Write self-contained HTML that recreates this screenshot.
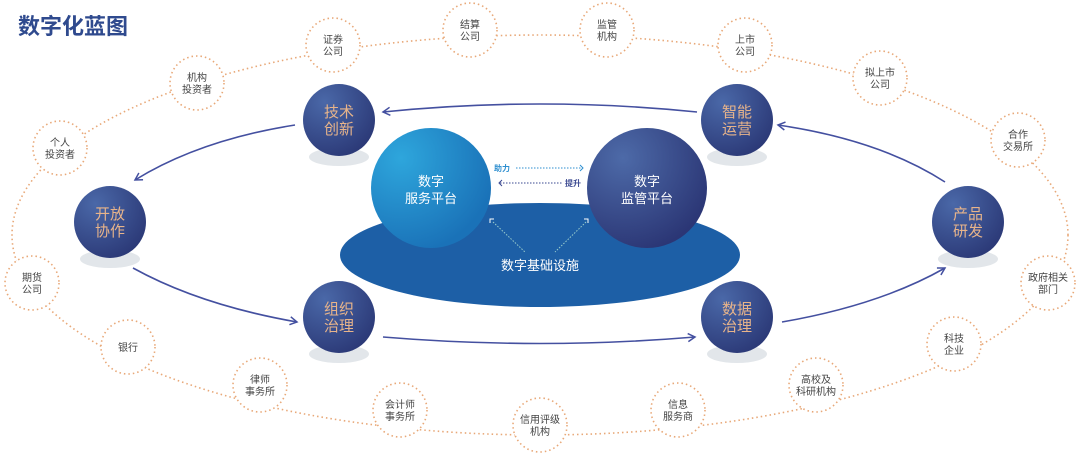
<!DOCTYPE html>
<html><head><meta charset="utf-8"><style>
body{margin:0;background:#fff;width:1080px;height:457px;overflow:hidden;font-family:"Liberation Sans","Noto Sans CJK SC",sans-serif}
</style></head><body>
<svg width="1080" height="457" viewBox="0 0 1080 457" xmlns="http://www.w3.org/2000/svg" font-family="Liberation Sans, Noto Sans CJK SC, sans-serif">
<defs>
<radialGradient id="nd" cx="0.3" cy="0.25" r="0.8"><stop offset="0" stop-color="#4a68a8"/><stop offset="1" stop-color="#2c3a78"/></radialGradient>
<radialGradient id="sv" cx="0.25" cy="0.25" r="0.8"><stop offset="0" stop-color="#2ea6dc"/><stop offset="1" stop-color="#1a72b8"/></radialGradient>
<radialGradient id="jg" cx="0.3" cy="0.25" r="0.8"><stop offset="0" stop-color="#4d6aa8"/><stop offset="1" stop-color="#2b3675"/></radialGradient>
<marker id="ar" markerWidth="10" markerHeight="10" refX="8" refY="5" orient="auto" markerUnits="userSpaceOnUse"><path d="M1,1 L8,5 L1,9" fill="none" stroke="#4450a0" stroke-width="1.5"/></marker>
</defs>
<text x="18" y="34" font-size="22" font-weight="bold" fill="#2f4a8e">数字化蓝图</text>
<ellipse cx="540" cy="235" rx="528" ry="200" fill="none" stroke="#e8a878" stroke-width="1.6" stroke-dasharray="1.5 3"/>
<g fill="#fff" stroke="#e8a878" stroke-width="1.6" stroke-dasharray="1.5 3">
<circle cx="333" cy="45" r="27"/><circle cx="470" cy="30" r="27"/><circle cx="607" cy="30" r="27"/><circle cx="745" cy="45" r="27"/><circle cx="880" cy="78" r="27"/><circle cx="1018" cy="140" r="27"/><circle cx="1048" cy="283" r="27"/><circle cx="954" cy="344" r="27"/><circle cx="816" cy="385" r="27"/><circle cx="678" cy="410" r="27"/><circle cx="540" cy="425" r="27"/><circle cx="400" cy="410" r="27"/><circle cx="260" cy="385" r="27"/><circle cx="128" cy="347" r="27"/><circle cx="32" cy="283" r="27"/><circle cx="60" cy="148" r="27"/><circle cx="197" cy="83" r="27"/>
</g>
<g font-size="10" fill="#444" text-anchor="middle">
<text x="333" y="43">证券</text><text x="333" y="55">公司</text>
<text x="470" y="28">结算</text><text x="470" y="40">公司</text>
<text x="607" y="28">监管</text><text x="607" y="40">机构</text>
<text x="745" y="43">上市</text><text x="745" y="55">公司</text>
<text x="880" y="76">拟上市</text><text x="880" y="88">公司</text>
<text x="1018" y="138">合作</text><text x="1018" y="150">交易所</text>
<text x="1048" y="281">政府相关</text><text x="1048" y="293">部门</text>
<text x="954" y="342">科技</text><text x="954" y="354">企业</text>
<text x="816" y="383">高校及</text><text x="816" y="395">科研机构</text>
<text x="678" y="408">信息</text><text x="678" y="420">服务商</text>
<text x="540" y="423">信用评级</text><text x="540" y="435">机构</text>
<text x="400" y="408">会计师</text><text x="400" y="420">事务所</text>
<text x="260" y="383">律师</text><text x="260" y="395">事务所</text>
<text x="128" y="351">银行</text>
<text x="32" y="281">期货</text><text x="32" y="293">公司</text>
<text x="60" y="146">个人</text><text x="60" y="158">投资者</text>
<text x="197" y="81">机构</text><text x="197" y="93">投资者</text>
</g>
<ellipse cx="540" cy="255" rx="200" ry="52" fill="#1d5fa6"/>
<g fill="none" stroke="#4450a0" stroke-width="1.6" marker-end="url(#ar)">
<path d="M697,112 Q540,96 383,112"/>
<path d="M295,125 Q200,140 135,180"/>
<path d="M133,268 Q200,305 297,322"/>
<path d="M383,337 Q540,350 695,337"/>
<path d="M782,322 Q880,305 945,268"/>
<path d="M945,182 Q880,140 778,125"/>
</g>
<g fill="#e2e6ea">
<ellipse cx="339" cy="157" rx="30" ry="9"/><ellipse cx="737" cy="157" rx="30" ry="9"/><ellipse cx="110" cy="259" rx="30" ry="9"/><ellipse cx="968" cy="259" rx="30" ry="9"/><ellipse cx="339" cy="354" rx="30" ry="9"/><ellipse cx="737" cy="354" rx="30" ry="9"/>
</g>
<g fill="url(#nd)">
<circle cx="339" cy="120" r="36"/><circle cx="737" cy="120" r="36"/><circle cx="110" cy="222" r="36"/><circle cx="968" cy="222" r="36"/><circle cx="339" cy="317" r="36"/><circle cx="737" cy="317" r="36"/>
</g>
<g font-size="15" fill="#e8b48a" text-anchor="middle">
<text x="339" y="117">技术</text><text x="339" y="134">创新</text>
<text x="737" y="117">智能</text><text x="737" y="134">运营</text>
<text x="110" y="219">开放</text><text x="110" y="236">协作</text>
<text x="968" y="219">产品</text><text x="968" y="236">研发</text>
<text x="339" y="314">组织</text><text x="339" y="331">治理</text>
<text x="737" y="314">数据</text><text x="737" y="331">治理</text>
</g>
<circle cx="431" cy="188" r="60" fill="url(#sv)"/>
<circle cx="647" cy="188" r="60" fill="url(#jg)"/>
<g font-size="13" fill="#fff" text-anchor="middle">
<text x="431" y="186">数字</text><text x="431" y="203">服务平台</text>
<text x="647" y="186">数字</text><text x="647" y="203">监管平台</text>
<text x="540" y="270">数字基础设施</text>
</g>
<g stroke-width="1" stroke-dasharray="1.5 1.5" fill="none">
<line x1="516" y1="168" x2="582" y2="168" stroke="#2e8fd0"/>
<line x1="500" y1="183" x2="562" y2="183" stroke="#3a4890"/>
<line x1="493" y1="222" x2="525" y2="252" stroke="#9cc"/>
<line x1="586" y1="222" x2="555" y2="252" stroke="#9cc"/>
</g>
<path d="M580,165 L583,168 L580,171" fill="none" stroke="#2e8fd0"/>
<path d="M502,180 L499,183 L502,186" fill="none" stroke="#3a4890"/>
<text x="494" y="171" font-size="8" font-weight="bold" fill="#2e8fd0">助力</text>
<text x="565" y="186" font-size="8" font-weight="bold" fill="#3a4890">提升</text>
<path d="M490,223 L490,219 L494,219" fill="none" stroke="#fff"/>
<path d="M588,223 L588,219 L584,219" fill="none" stroke="#fff"/>
</svg>
</body></html>
